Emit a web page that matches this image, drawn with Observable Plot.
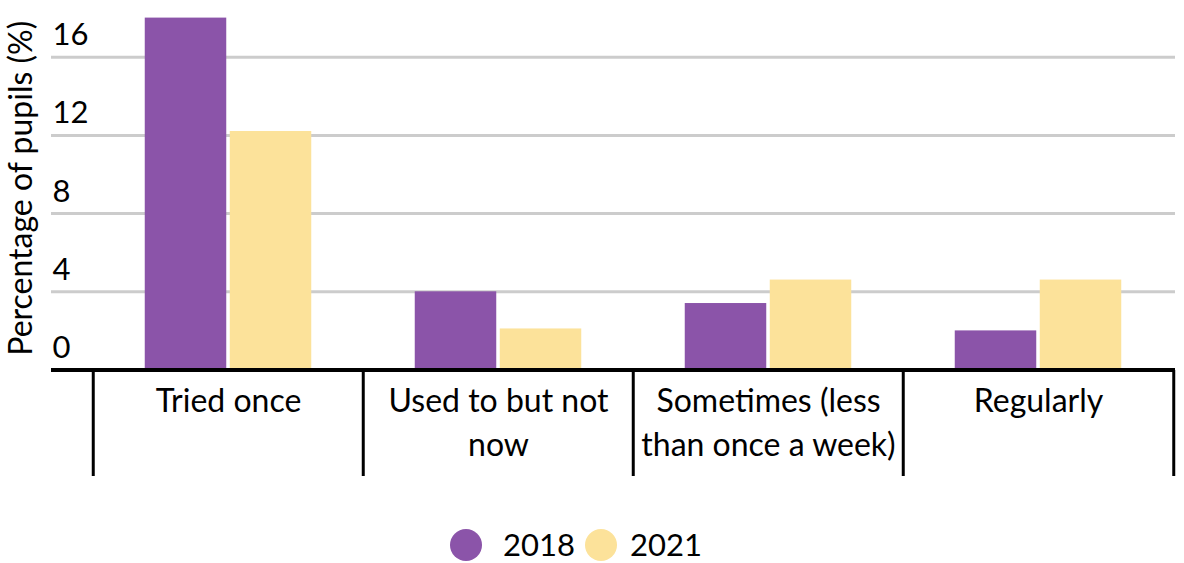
<!DOCTYPE html>
<html>
<head>
<meta charset="utf-8">
<script src="https://cdn.jsdelivr.net/npm/d3@7"></script>
<script src="https://cdn.jsdelivr.net/npm/@observablehq/plot@0.6"></script>
<style>
  html, body { margin: 0; padding: 0; background: #fff; }
  body { width: 1184px; height: 563px; overflow: hidden; font-family: Lato, sans-serif; }
  #chart svg { display: block; }
  #legend { position: relative; height: 83px; }
  .item { position: absolute; top: 23px; height: 83px; display: flex; align-items: center; font-size: 31px; color: #000; line-height: 1; }
  .sw { width: 32px; height: 32px; border-radius: 50%; display: inline-block; flex: none; }
</style>
</head>
<body>
<div id="chart"></div>
<div id="legend"></div>
<script>
const categories = ["Tried once", "Used to but not now", "Sometimes (less than once a week)", "Regularly"];
const tickLabels = ["Tried once", "Used to but not\nnow", "Sometimes (less\nthan once a week)", "Regularly"];
const years = ["2018", "2021"];
const values2018 = [18.0, 4.0, 3.4, 2.0];
const values2021 = [12.2, 2.1, 4.6, 4.6];
const yTicks = [0, 4, 8, 12, 16];
const yLabel = "Percentage of pupils (%)";
const colors = ["#8b54a9", "#fce29a"];

const data = categories.flatMap((c, i) => [
  {category: c, year: years[0], value: values2018[i]},
  {category: c, year: years[1], value: values2021[i]}
]);

const yMax = 18.9;
const xRange = [92, 1174];
const bw = (xRange[1] - xRange[0]) / categories.length;
const barW = 82, gap = 3;
const off = (bw - (2 * barW + gap)) / 2;

const chart = Plot.plot({
  width: 1184,
  height: 480,
  marginLeft: 51,
  marginRight: 9,
  marginTop: 0,
  marginBottom: 4,
  style: {fontFamily: "Lato, sans-serif", fontSize: "31px", color: "#000", background: "#fff", overflow: "visible"},
  x: {domain: categories, range: xRange, padding: 0, axis: null},
  y: {domain: [0, yMax], range: [369.5, 0], axis: null},
  color: {domain: years, range: colors},
  marks: [
    Plot.ruleY(yTicks.slice(1), {stroke: "#cccccc", strokeWidth: 3}),
    Plot.barY(data.filter(d => d.year === years[0]), {x: "category", y: "value", fill: "year", insetLeft: off, insetRight: bw - off - barW}),
    Plot.barY(data.filter(d => d.year === years[1]), {x: "category", y: "value", fill: "year", insetLeft: off + barW + gap, insetRight: off}),
    Plot.ruleY([0], {stroke: "#000", strokeWidth: 4}),
    Plot.ruleX(categories, {x: d => d, dx: -bw / 2, insetTop: 370, stroke: "#000", strokeWidth: 3}),
    Plot.ruleX([categories[categories.length - 1]], {x: d => d, dx: bw / 2, insetTop: 370, stroke: "#000", strokeWidth: 3}),
    Plot.axisY(yTicks, {tickSize: 0, tickPadding: 0, textAnchor: "start", dx: 1, lineAnchor: "bottom", dy: -12, fontSize: 31, label: null}),
    Plot.text([yLabel], {frameAnchor: "left", y: () => yMax / 2, text: d => d, rotate: -90, textAnchor: "middle", lineAnchor: "top", dx: -42, dy: 3, fontSize: 32, fill: "#000"}),
    Plot.text(tickLabels, {x: (d, i) => categories[i], y: () => 0, text: d => d, dy: 10, lineAnchor: "top", lineHeight: 1.39, fontSize: 32, fill: "#000"})
  ]
});
document.getElementById("chart").appendChild(chart);

const legend = document.getElementById("legend");
const itemLeft = [450, 585];
const textGap = [21, 13];
years.forEach((y, i) => {
  const it = document.createElement("div");
  it.className = "item";
  it.style.left = itemLeft[i] + "px";
  const sw = document.createElement("span");
  sw.className = "sw";
  sw.style.background = colors[i];
  const t = document.createElement("span");
  t.textContent = y;
  t.style.marginLeft = textGap[i] + "px";
  it.appendChild(sw);
  it.appendChild(t);
  legend.appendChild(it);
});
</script>
</body>
</html>
